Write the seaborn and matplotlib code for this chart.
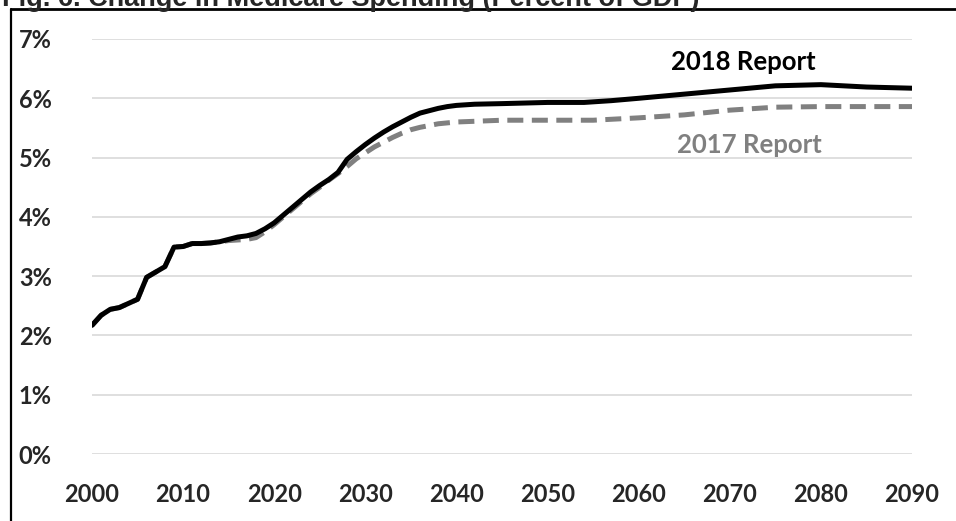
import numpy as np
import pandas as pd
import matplotlib
matplotlib.use('Agg')
import matplotlib.pyplot as plt
from matplotlib.lines import Line2D
import seaborn as sns

# Medicare spending, percent of GDP
years_2018 = [2000, 2001, 2002, 2003, 2004, 2005, 2006, 2007, 2008, 2009,
              2010, 2011, 2012, 2013, 2014, 2015, 2016, 2017, 2018, 2019,
              2020, 2021, 2022, 2023, 2024, 2025, 2026, 2027, 2028, 2029,
              2030, 2031, 2032, 2033, 2034, 2035, 2036, 2037, 2038, 2039,
              2040, 2042, 2045, 2050, 2054, 2057, 2060, 2065, 2070, 2075,
              2080, 2085, 2090]
report_2018 = [2.17, 2.34, 2.44, 2.47, 2.54, 2.61, 2.98, 3.07, 3.16, 3.49,
               3.50, 3.55, 3.55, 3.56, 3.58, 3.62, 3.66, 3.68, 3.72, 3.80,
               3.90, 4.03, 4.16, 4.29, 4.42, 4.53, 4.63, 4.75, 4.97, 5.10,
               5.22, 5.33, 5.43, 5.52, 5.60, 5.68, 5.75, 5.79, 5.83, 5.86,
               5.88, 5.90, 5.91, 5.93, 5.93, 5.96, 6.00, 6.07, 6.14, 6.21,
               6.23, 6.19, 6.17]

years_2017 = [2000, 2001, 2002, 2003, 2004, 2005, 2006, 2007, 2008, 2009,
              2010, 2011, 2012, 2013, 2014, 2015, 2016, 2017, 2018, 2019,
              2020, 2021, 2022, 2023, 2024, 2025, 2026, 2027, 2028, 2029,
              2030, 2031, 2032, 2033, 2034, 2035, 2036, 2037, 2038, 2040,
              2045, 2050, 2055, 2060, 2065, 2070, 2075, 2080, 2085, 2090]
report_2017 = [2.17, 2.34, 2.44, 2.47, 2.54, 2.61, 2.98, 3.07, 3.16, 3.49,
               3.50, 3.55, 3.55, 3.56, 3.58, 3.60, 3.61, 3.62, 3.65, 3.75,
               3.87, 4.00, 4.13, 4.26, 4.39, 4.50, 4.62, 4.73, 4.85, 4.98,
               5.08, 5.18, 5.26, 5.34, 5.41, 5.47, 5.51, 5.54, 5.57, 5.60,
               5.63, 5.63, 5.63, 5.67, 5.72, 5.80, 5.85, 5.86, 5.86, 5.86]

y_ticks = [0, 1, 2, 3, 4, 5, 6, 7]
x_ticks = [2000, 2010, 2020, 2030, 2040, 2050, 2060, 2070, 2080, 2090]

df18 = pd.DataFrame({'year': years_2018, 'pct': report_2018})
df17 = pd.DataFrame({'year': years_2017, 'pct': report_2017})

sns.set_style('white')
plt.rcParams['font.family'] = ['Lato', 'DejaVu Sans']

fig = plt.figure(figsize=(9.56, 5.21), dpi=100)
ax = fig.add_axes([92 / 956, 1 - 454 / 521, (912 - 92) / 956, (454 - 39) / 521])

grey = '#808080'
sns.lineplot(data=df17, x='year', y='pct', ax=ax, color=grey, linewidth=3.6,
             zorder=3)
ax.lines[-1].set_dashes((3.2, 1.7))
sns.lineplot(data=df18, x='year', y='pct', ax=ax, color='black', linewidth=3.6,
             zorder=4)

ax.set_xlim(2000, 2090)
ax.set_ylim(0, 7)
ax.set_yticks(y_ticks)
ax.set_yticklabels(['{}%'.format(t) for t in y_ticks])
ax.set_xticks(x_ticks)
ax.set_xticklabels([str(t) for t in x_ticks])
ax.set_xlabel('')
ax.set_ylabel('')
ax.tick_params(axis='both', length=0, labelsize=17, pad=21)
ax.tick_params(axis='y', pad=29)
for lab in ax.get_xticklabels() + ax.get_yticklabels():
    lab.set_fontweight('bold')
ax.yaxis.grid(True, color='#d9d9d9', linewidth=1.2)
ax.xaxis.grid(False)
for s in ax.spines.values():
    s.set_visible(False)

ax.text(2071.5, 6.61, '2018 Report', ha='center', va='center', fontsize=18.5,
        fontweight='bold', color='black')
ax.text(2072.2, 5.21, '2017 Report', ha='center', va='center', fontsize=18.5,
        fontweight='bold', color=grey)

# frame around the chart (cut off at right and bottom)
fig.add_artist(Line2D([11 / 956, 11 / 956], [0, 1 - 9 / 521], color='black',
                      linewidth=1.6, transform=fig.transFigure))
fig.add_artist(Line2D([11 / 956, 1], [1 - 9 / 521, 1 - 9 / 521], color='black',
                      linewidth=2.0, transform=fig.transFigure))

fig.text(0.002, 1 - 6 / 521, 'Fig. 6. Change in Medicare Spending (Percent of GDP)',
         family=['Liberation Sans', 'DejaVu Sans'], fontweight='bold',
         fontsize=19.5, ha='left', va='baseline')

plt.savefig('out.png', dpi=100)
plt.close(fig)
